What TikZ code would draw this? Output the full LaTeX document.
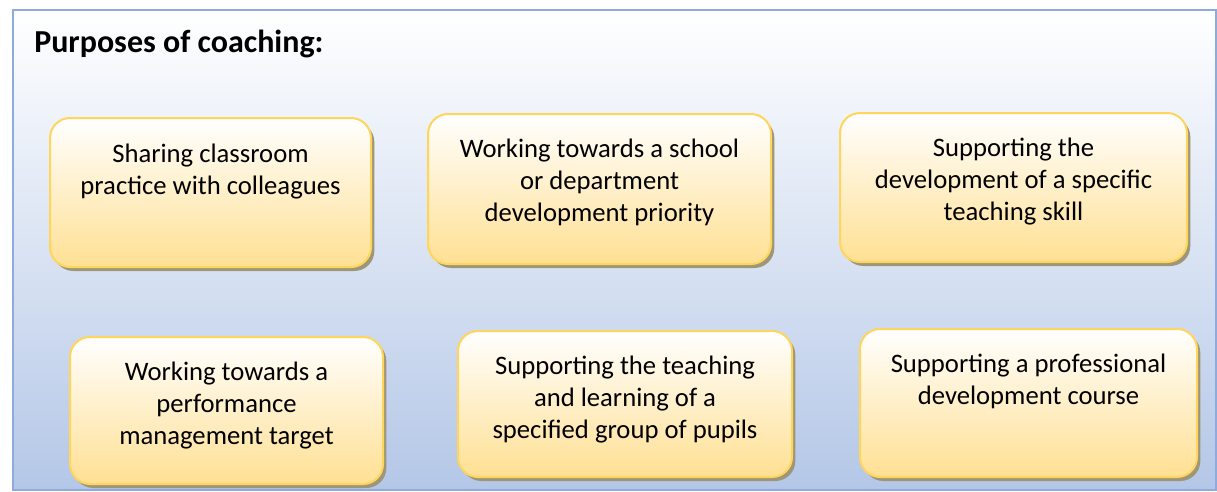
\documentclass[tikz,border=0pt]{standalone}
\usepackage{fontspec}
\setmainfont{Carlito}
\usetikzlibrary{shadows}

\definecolor{framecol}{HTML}{8FAADC}
\definecolor{bgbottom}{HTML}{B4C7E7}
\definecolor{boxline}{HTML}{FFD55C}
\definecolor{boxmid}{HTML}{FFF4D6}
\definecolor{boxbottom}{HTML}{FFE093}
\definecolor{shadowcol}{HTML}{9E9678}

\tikzset{
    box/.style={draw=boxline, line width=1.5pt, rounded corners=15pt, inner sep=0pt,
        top color=white, middle color=boxmid, bottom color=boxbottom,
        drop shadow={shadow xshift=2.5pt, shadow yshift=-3pt, fill=shadowcol, opacity=1}},
    boxtext/.style={anchor=north, inner sep=0pt, align=center,
        font=\fontsize{20}{24}\selectfont},
}

\begin{document}
\begin{tikzpicture}[x=0.75pt, y=-0.75pt]
    \useasboundingbox (0,0) rectangle (1217,492);
    % frame with the blue wash behind the boxes
    \draw [framecol, line width=1.5pt, top color=white, bottom color=bgbottom] (13,10) rectangle (1216,490);
    \node [anchor=base west, inner sep=0pt, font=\fontsize{24}{28}\selectfont\bfseries] (title) at (34,53) {Purposes of coaching:};

    % top row
    \node [box, minimum width=240.75pt, minimum height=111.75pt] (share) at (210.5,192.5) {};
    \node [box, minimum width=257.25pt, minimum height=112.5pt] (priority) at (599.5,189) {};
    \node [box, minimum width=260.25pt, minimum height=111.75pt] (skill) at (1013.5,187.5) {};
    \node [boxtext, yshift=-20pt] (share-t) at (share.north) {Sharing classroom\\practice with colleagues};
    \node [boxtext, yshift=-19pt] (priority-t) at (priority.north) {Working towards a school\\or department\\development priority};
    \node [boxtext, yshift=-19pt] (skill-t) at (skill.north) {Supporting the\\development of a specific\\teaching skill};

    % bottom row
    \node [box, minimum width=234.75pt, minimum height=110.25pt] (target) at (226.5,410.5) {};
    \node [box, minimum width=250.5pt, minimum height=109.5pt] (pupils) at (625,404) {};
    \node [box, minimum width=252.75pt, minimum height=111pt] (course) at (1028.5,403) {};
    \node [boxtext, yshift=-19pt] (target-t) at (target.north) {Working towards a\\performance\\management target};
    \node [boxtext, yshift=-19pt] (pupils-t) at (pupils.north) {Supporting the teaching\\and learning of a\\specified group of pupils};
    \node [boxtext, yshift=-19pt] (course-t) at (course.north) {Supporting a professional\\development course};
\end{tikzpicture}
\end{document}
